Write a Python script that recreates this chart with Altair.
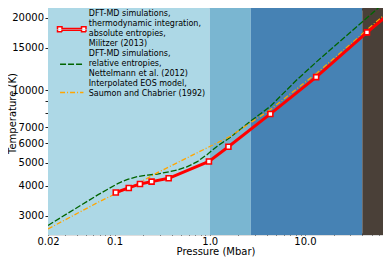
import altair as alt
import pandas as pd

# background regions (pressure ranges, Mbar)
band_start = [0.02, 1.0, 2.7, 40.0]
band_end = [1.0, 2.7, 40.0, 66.0]
band_color = ["#add8e6", "#7ab6d1", "#4682b4", "#4a4038"]

# Militzer (2013) DFT-MD, absolute entropies (markers)
militzer_p = [0.103, 0.141, 0.185, 0.245, 0.37, 0.98, 1.57, 4.33, 13.1, 44.8]
militzer_t = [3753, 3922, 4074, 4166, 4300, 5053, 5814, 7960, 11320, 17370]
# Militzer line (continues to the right edge)
militzer_line_p = [0.103, 0.141, 0.185, 0.245, 0.37, 0.98, 1.57, 4.33, 13.1, 44.8, 70.0]
militzer_line_t = [3753, 3922, 4074, 4166, 4300, 5053, 5814, 7960, 11320, 17370, 20140]

# Nettelmann et al. (2012)
nettelmann_p = [0.02, 0.0666, 0.0848, 0.1079, 0.1372, 0.1746, 0.2222, 0.2825, 0.3594, 0.4572,
                0.5817, 0.74, 0.942, 1.198, 1.649, 2.67, 4.32, 8.22, 13.3, 70.0]
nettelmann_t = [2740, 3668, 3873, 4089, 4260, 4371, 4437, 4480, 4565, 4655,
                4808, 5041, 5405, 5848, 6368, 7418, 8554, 11030, 13130, 23300]

# Saumon and Chabrier (1992)
saumon_p = [0.02, 0.0666, 0.1, 0.1746, 0.2825, 0.4572, 0.74, 1.198, 1.649, 2.67, 4.32, 13.3, 70.0]
saumon_t = [2648, 3412, 3693, 4089, 4539, 4994, 5492, 6039, 6431, 7307, 8289, 11760, 20700]

# legend: one entry per text line
legend_lines = [
    "DFT-MD simulations,",
    "thermodynamic integration,",
    "absolute entropies,",
    "Militzer (2013)",
    "DFT-MD simulations, ",
    "relative entropies,",
    "Nettelmann et al. (2012)",
    "Interpolated EOS model,",
    "Saumon and Chabrier (1992)",
]
RED, GREEN, ORANGE = "#ff0000", "#006400", "#ffa500"
legend_colors = [RED, RED, RED, RED, GREEN, GREEN, GREEN, ORANGE, ORANGE]
SOLID, DASH, DASHDOT = [1, 0], [6, 2], [5, 2, 1, 2]
legend_dash = [SOLID, SOLID, SOLID, SOLID, DASH, DASH, DASH, DASHDOT, DASHDOT]
NONE_SYM = "M0,0"
# red symbol straddles rows 2 and 3 (each row shows its half, rows are clipped)
RED_SYM_LOW = ("M-0.65,0.2703H0.65M-0.65,0.3603H0.65"
               "M-0.95,0.1653H-0.65V0.4653H-0.95ZM0.65,0.1653H0.95V0.4653H0.65Z")
RED_SYM_HIGH = ("M-0.65,-0.3603H0.65M-0.65,-0.2703H0.65"
                "M-0.95,-0.4653H-0.65V-0.1653H-0.95ZM0.65,-0.4653H0.95V-0.1653H0.65Z")
GREEN_SYM = "M-0.78,0H0.78"
ORANGE_SYM = "M-0.78,-0.12H0.78"
legend_symbols = [NONE_SYM, RED_SYM_LOW, RED_SYM_HIGH, NONE_SYM,
                  NONE_SYM, GREEN_SYM, NONE_SYM, NONE_SYM, ORANGE_SYM]

x_major = [0.02, 0.1, 1, 10]
x_minor = [0.03, 0.04, 0.05, 0.06, 0.07, 0.08, 0.09,
           0.2, 0.3, 0.4, 0.5, 0.6, 0.7, 0.8, 0.9,
           2, 3, 4, 5, 6, 7, 8, 9,
           20, 30, 40, 50, 60]
y_ticks = [3000, 4000, 5000, 6000, 7000, 8000, 9000, 10000, 15000, 20000]

FONT = "DejaVu Sans"
TICK = "#222222"

xs = alt.Scale(type="log", domain=[0.02, 66], nice=False)
ys = alt.Scale(type="log", domain=[2500, 21930], nice=False)

bands = pd.DataFrame({"p0": band_start, "p1": band_end, "c": band_color})
mil = pd.DataFrame({"p": militzer_p, "t": militzer_t})
mil_line = pd.DataFrame({"p": militzer_line_p, "t": militzer_line_t})
net = pd.DataFrame({"p": nettelmann_p, "t": nettelmann_t})
sau = pd.DataFrame({"p": saumon_p, "t": saumon_t})
leg_df = pd.DataFrame({"series": legend_lines})


def tick_axis(orient, values, size, **kw):
    return alt.Axis(orient=orient, values=values, tickSize=size, offset=-size,
                    labels=False, title=None, domain=False, grid=False,
                    tickColor=TICK, tickWidth=1, **kw)


x_main_axis = alt.Axis(
    orient="bottom", values=x_major, tickSize=4, offset=-4, domain=False, grid=False,
    tickColor=TICK, labelPadding=1, labelFontSize=10, labelFont=FONT, labelColor="black",
    labelOverlap=False, labelFlush=False,
    labelExpr="datum.value == 0.02 ? '0.02' : datum.value == 0.1 ? '0.1' : datum.value == 1 ? '1.0' : '10.0'",
    title="Pressure (Mbar)", titleFontSize=10, titleFont=FONT, titleFontWeight="normal",
    titleColor="black", titleY=23.5, titleBaseline="alphabetic",
)

y_main_axis = alt.Axis(
    orient="left", values=y_ticks, tickSize=3, domain=False, grid=False, tickColor=TICK,
    labelPadding=1.5, labelFontSize=10, labelFont=FONT, labelColor="black",
    labelOverlap=False, labelFlush=False,
    labelExpr="(datum.value == 8000 || datum.value == 9000) ? '' : format(datum.value, 'd')",
    title="Temperature (K)", titleFontSize=10, titleFont=FONT, titleFontWeight="normal",
    titleColor="black", titleX=-32.5, titleY=105, titleAngle=270, titleAlign="center",
    titleBaseline="alphabetic",
)

band_layer = alt.Chart(bands).mark_rect().encode(
    x=alt.X("p0:Q", scale=xs, axis=x_main_axis),
    x2="p1:Q",
    fill=alt.Fill("c:N", scale=None, legend=None),
)

green_layer = alt.Chart(net).mark_line(
    color=GREEN, strokeWidth=1.3, strokeDash=DASH, clip=True
).encode(
    x=alt.X("p:Q", scale=xs, axis=tick_axis("bottom", x_minor, 2)),
    y=alt.Y("t:Q", scale=ys, axis=y_main_axis),
)

orange_layer = alt.Chart(sau).mark_line(
    color=ORANGE, strokeWidth=1.3, strokeDash=DASHDOT, clip=True
).encode(
    x=alt.X("p:Q", scale=xs, axis=tick_axis("top", x_major, 4)),
    y=alt.Y("t:Q", scale=ys, axis=tick_axis("right", y_ticks, 4)),
)

red_line_layer = alt.Chart(mil_line).mark_line(
    color=RED, strokeWidth=3, clip=True
).encode(
    x=alt.X("p:Q", scale=xs, axis=tick_axis("top", x_minor, 2)),
    y=alt.Y("t:Q", scale=ys, axis=None),
)

red_pts_layer = alt.Chart(mil).mark_square(
    size=25, fill="white", stroke=RED, strokeWidth=1.6, opacity=1, clip=True
).encode(
    x=alt.X("p:Q", scale=xs, axis=None),
    y=alt.Y("t:Q", scale=ys, axis=None),
)

leg = alt.Legend(
    title=None, orient="none", legendX=7.75, legendY=1.6, padding=0,
    labelFontSize=8, labelFont=FONT, labelColor="black", labelOffset=1, labelLimit=400,
    symbolSize=900, symbolStrokeWidth=1.5, symbolOpacity=1, rowPadding=0,
    clipHeight=9.46,
)

legend_layer = alt.Chart(leg_df).mark_point(
    filled=False, fill="white", strokeWidth=1.5
).encode(
    stroke=alt.Stroke("series:N", scale=alt.Scale(domain=legend_lines, range=legend_colors), legend=leg),
    shape=alt.Shape("series:N", scale=alt.Scale(domain=legend_lines, range=legend_symbols), legend=leg),
    strokeDash=alt.StrokeDash("series:N", scale=alt.Scale(domain=legend_lines, range=legend_dash), legend=leg),
).transform_filter("false")

chart = alt.layer(
    band_layer, green_layer, orange_layer, red_line_layer, red_pts_layer, legend_layer
).resolve_axis(x="independent", y="independent").properties(
    width=335, height=227,
    autosize=alt.AutoSizeParams(type="none"),
    padding={"left": 40, "top": 0, "right": 0, "bottom": 22},
).configure_view(stroke="#666666", strokeWidth=1).configure(font=FONT)

chart.save("out.html", embed_options={"renderer": "svg", "actions": False})
